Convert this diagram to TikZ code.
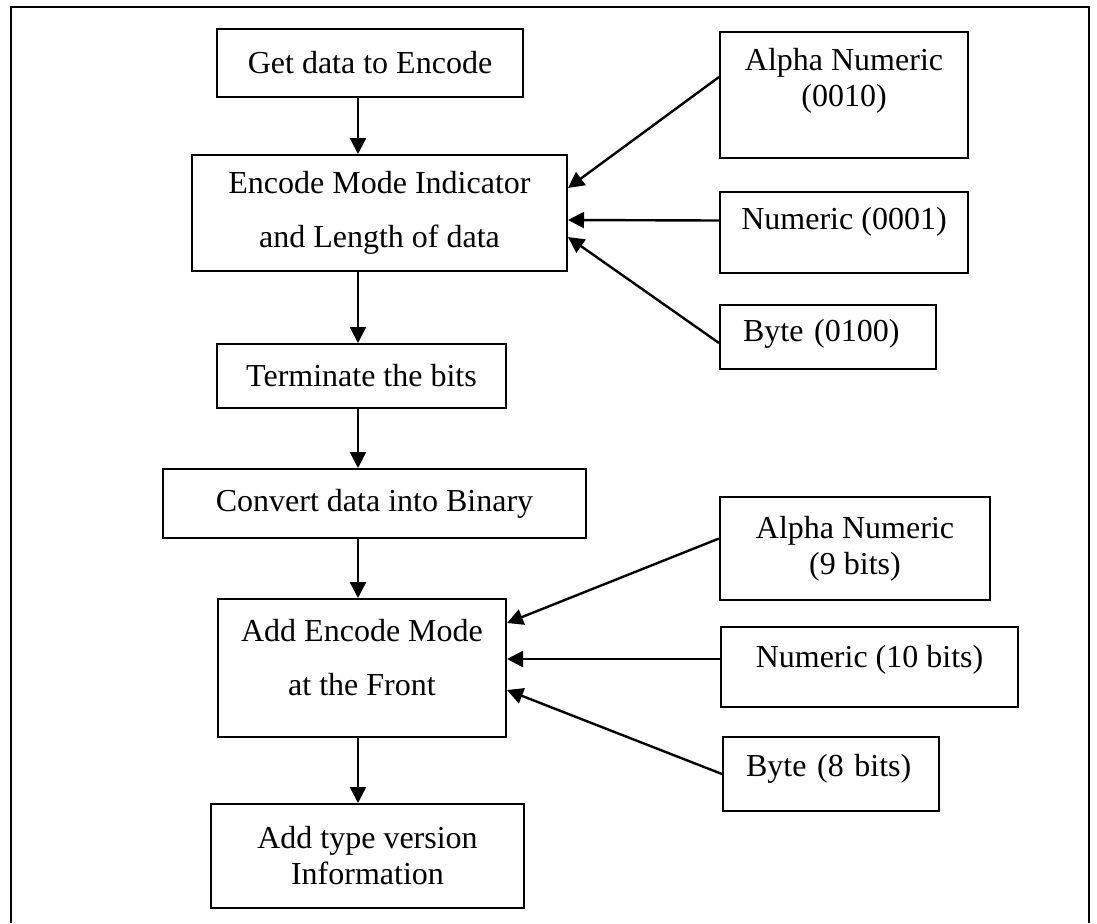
\documentclass[tikz,border=0pt]{standalone}
\usepackage{fontspec}
\setmainfont{Liberation Serif}
\usetikzlibrary{arrows.meta}

\tikzset{
  box/.style={draw, line width=1pt, align=center, inner sep=0pt},
  leftbox/.style={box, text width=85pt, align=left},
  flow/.style={line width=1.2pt, -{Triangle[length=8pt,width=8pt]}}
}

\begin{document}
\begin{tikzpicture}[x=0.5pt, y=-0.5pt, every node/.style={font=\fontsize{16}{18}\selectfont}]
    \useasboundingbox (0,0) rectangle (1097,923);
    % frame, open at the bottom
    \draw[line width=1pt] (11,923) -- (11,7) -- (1089,7) -- (1089,923);

    % main steps
    \node[box, minimum width=153pt, minimum height=34pt] (get) at (370,63) {Get data to Encode};
    \node[box, minimum width=187.5pt, minimum height=58pt] (enc) at (379.5,213) {Encode Mode Indicator\\[9pt]and Length of data};
    \node[box, minimum width=144.5pt, minimum height=32pt] (term) at (361.5,376) {Terminate the bits};
    \node[box, minimum width=211.5pt, minimum height=34.5pt] (conv) at (374.5,503.5) {Convert data into Binary};
    \node[box, minimum width=144pt, minimum height=69pt, text depth=10.5pt] (addm) at (362,668) {Add Encode Mode\\[9pt]at the Front};
    \node[box, minimum width=156.5pt, minimum height=52pt] (addt) at (367.5,856) {Add type version\\Information};

    % mode indicators
    \node[box, minimum width=124pt, minimum height=63pt, text depth=17.8pt] (an1) at (844,95) {Alpha Numeric\\(0010)};
    \node[box, minimum width=124pt, minimum height=40.5pt, text depth=14pt] (nu1) at (844,232.5) {Numeric (0001)};
    \node[leftbox, minimum width=108pt, minimum height=32pt, text depth=6.8pt] (by1) at (828,337) {Byte (0100)};

    % mode lengths
    \node[box, minimum width=135pt, minimum height=51.5pt] (an2) at (855,548.5) {Alpha Numeric\\(9 bits)};
    \node[box, minimum width=148.5pt, minimum height=40pt, text depth=10.5pt] (nu2) at (869.5,667) {Numeric (10 bits)};
    \node[leftbox, minimum width=108pt, minimum height=37pt, text depth=8.5pt] (by2) at (831,774) {Byte (8 bits)};

    \coordinate (spine) at (358,0);
    \foreach \a/\b in {get/enc, enc/term, term/conv, conv/addm, addm/addt}
        \draw[flow] (\a.south -| spine) -- (\b.north -| spine);

    \draw[flow] ([yshift=9pt]an1.west) -- ([yshift=12.5pt]enc.east);
    \draw[flow] ([yshift=6pt]nu1.west) -- ([yshift=-3.5pt]enc.east);
    \draw[flow] ([yshift=-3pt]by1.west) -- ([yshift=-12pt]enc.east);

    \draw[flow] ([yshift=5pt]an2.west) -- ([yshift=22.5pt]addm.east);
    \draw[flow] ([yshift=4pt]nu2.west) -- ([yshift=4.5pt]addm.east);
    \draw[flow] (by2.west) -- ([yshift=-11pt]addm.east);
\end{tikzpicture}
\end{document}
